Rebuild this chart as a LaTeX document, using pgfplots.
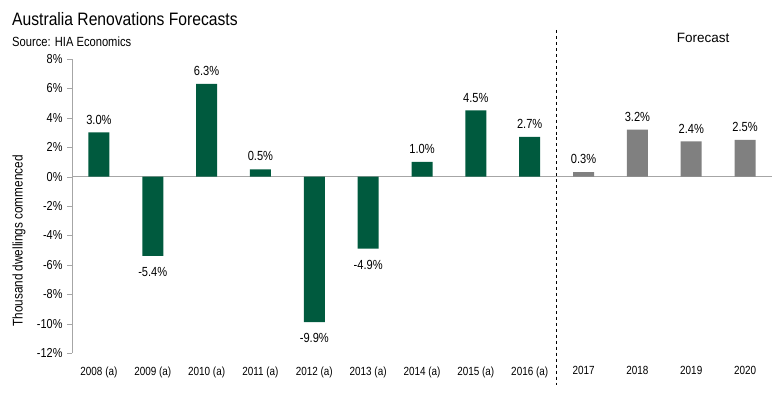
\documentclass[border=0pt]{standalone}
\usepackage{fontspec}
\setmainfont{Liberation Sans}[FakeStretch=0.84]
\newfontfamily\titlefont{Liberation Sans}[FakeStretch=0.87]
\newfontfamily\widefont{Liberation Sans}
\usepackage{pgfplots}
\pgfplotsset{compat=1.18}
\definecolor{hiagreen}{HTML}{005A3E}
\definecolor{hiagrey}{HTML}{808080}
\definecolor{axgrey}{HTML}{A6A6A6}
\begin{document}
\begin{tikzpicture}[x=1bp,y=1bp]
\useasboundingbox (0,0) rectangle (779,395);
\node[anchor=west,font=\titlefont\fontsize{18bp}{20bp}\selectfont,inner sep=0] at (12,376) {Australia Renovations Forecasts};
\node[anchor=west,font=\fontsize{13.3bp}{15bp}\selectfont,inner sep=0] at (12,353) {Source: HIA Economics};
\node[rotate=90,font=\fontsize{14bp}{16bp}\selectfont,inner sep=0] at (19,154) {Thousand dwellings commenced};
\begin{axis}[
  at={(72bp,42bp)}, anchor=south west,
  scale only axis, width=700bp, height=294bp,
  xmin=-0.5, xmax=12.5, ymin=-12, ymax=8,
  ytick={-12,-10,...,8},
  /pgf/number format/assume math mode=true,
  yticklabel={\pgfmathprintnumber{\tick}\%},
  yticklabel style={font=\fontsize{13bp}{15bp}\selectfont, xshift=-1bp},
  xtick={0,...,12},
  xticklabels={2008 (a),2009 (a),2010 (a),2011 (a),2012 (a),2013 (a),2014 (a),2015 (a),2016 (a),2017,2018,2019,2020},
  xticklabel style={font=\fontsize{11.8bp}{13bp}\selectfont, yshift=-5bp},
  axis y line*=left,
  axis x line*=bottom,
  x axis line style={draw=none},
  y axis line style={draw=axgrey, -},
  xtick style={draw=none},
  ytick style={draw=axgrey},
  tick align=outside,
  major tick length=5bp,
  clip=false,
  ybar, bar width=21bp,
  point meta=explicit symbolic,
  nodes near coords,
  nodes near coords style={font=\fontsize{13.2bp}{15bp}\selectfont, inner sep=8bp},
]
\draw[axgrey] (axis cs:-0.5,0) -- (axis cs:12.5,0);
\addplot[fill=hiagreen, draw=none, bar shift=0pt] coordinates {
  (0,3.0) [3.0\%]
  (2,6.3) [6.3\%]
  (3,0.5) [0.5\%]
  (6,1.0) [1.0\%]
  (7,4.5) [4.5\%]
  (8,2.7) [2.7\%]
};
\addplot[fill=hiagreen, draw=none, bar shift=0pt,
  nodes near coords style={anchor=north, yshift=-3bp}] coordinates {
  (1,-5.4) [-5.4\%]
  (4,-9.9) [-9.9\%]
  (5,-4.9) [-4.9\%]
};
\addplot[fill=hiagrey, draw=none, bar shift=0pt] coordinates {
  (9,0.3) [0.3\%]
  (10,3.2) [3.2\%]
  (11,2.4) [2.4\%]
  (12,2.5) [2.5\%]
};
\draw[black, dashed, thin] (axis cs:8.5,9.98) -- (axis cs:8.5,-14.17);
\node[font=\widefont\fontsize{13.5bp}{15bp}\selectfont] at (axis cs:11.22,9.43) {Forecast};
\end{axis}
\end{tikzpicture}
\end{document}
